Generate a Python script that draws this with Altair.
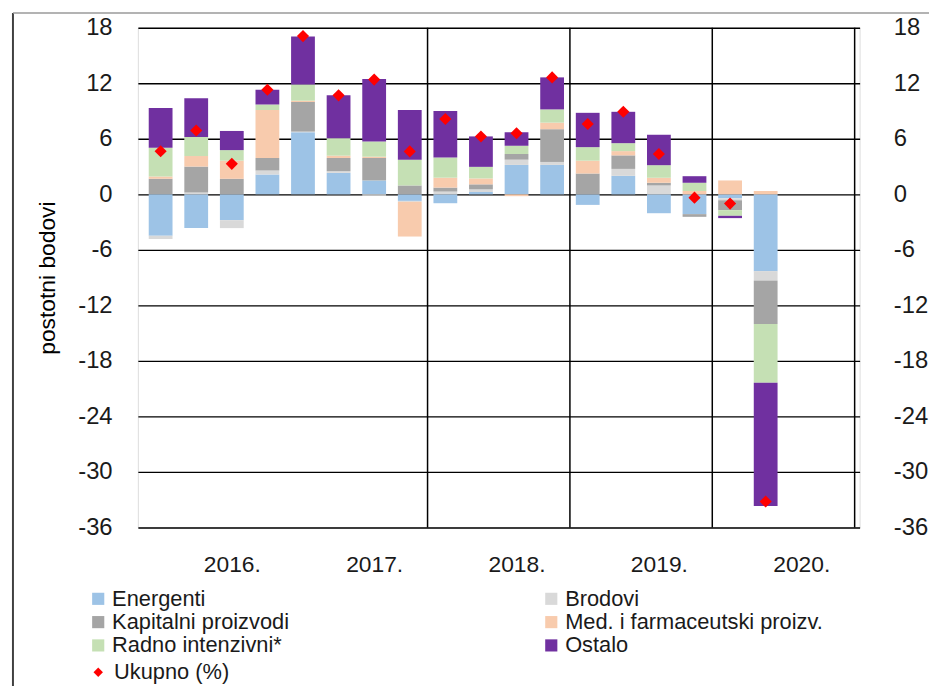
import altair as alt
import pandas as pd

quarters = ["2016Q1", "2016Q2", "2016Q3", "2016Q4",
            "2017Q1", "2017Q2", "2017Q3", "2017Q4",
            "2018Q1", "2018Q2", "2018Q3", "2018Q4",
            "2019Q1", "2019Q2", "2019Q3", "2019Q4",
            "2020Q1", "2020Q2"]
series = ["Energenti", "Brodovi", "Kapitalni proizvodi",
          "Med. i farmaceutski proizv.", "Radno intenzivni*", "Ostalo"]
colors = ["#9DC3E6", "#D9D9D9", "#A5A5A5", "#F8CBAD", "#C5E0B4", "#7030A0"]

energenti = [-4.47, -3.64, -2.79, 2.14, 6.71, 2.32, 1.50, -0.71, -0.96, 0.25, 3.18, 3.18, -1.14, 2.00, -2.04, -2.14, -0.43, -8.30]
brodovi = [-0.36, 0.20, -0.86, 0.43, 0.07, 0.18, -0.15, -0.10, 0.30, 0.29, 0.57, 0.32, 0.00, 0.75, 0.96, 0.00, -0.21, -1.00]
kapitalni = [1.68, 2.80, 1.68, 1.36, 3.20, 1.43, 2.43, 0.96, 0.43, 0.54, 0.61, 3.54, 2.25, 1.46, 0.29, -0.29, -1.07, -4.71]
med = [0.25, 1.14, 1.96, 5.18, 0.14, 0.25, 0.14, -3.75, 1.07, 0.64, -0.20, 0.71, 1.39, 0.46, 0.54, 0.36, 1.50, 0.36]
radno = [3.10, 2.07, 1.14, 0.60, 1.75, 1.89, 1.64, 2.79, 2.18, 1.25, 0.89, 1.43, 1.46, 0.86, 1.36, 0.89, -0.61, -6.36]
ostalo = [4.30, 4.18, 2.07, 1.60, 5.18, 4.64, 6.75, 5.36, 5.04, 3.29, 1.46, 3.46, 3.71, 3.39, 3.29, 0.71, -0.25, -13.30]
ukupno = [4.66, 6.90, 3.30, 11.30, 17.10, 10.70, 12.40, 4.64, 8.14, 6.25, 6.60, 12.64, 7.60, 8.93, 4.36, -0.36, -1.00, -33.20]

year_labels = ["2016.", "2017.", "2018.", "2019.", "2020."]
y_ticks = [18, 12, 6, 0, -6, -12, -18, -24, -30, -36]

n_slots = 4 * len(year_labels)
label_pos = [4 * i + 2 for i in range(len(year_labels))]
boundaries = [4 * i + 3.5 for i in range(1, len(year_labels))]

rows = []
for k, (name, vals) in enumerate(zip(series, [energenti, brodovi, kapitalni, med, radno, ostalo])):
    for i, v in enumerate(vals):
        rows.append({"idx": i, "q": quarters[i], "series": name, "ord": k, "value": v})
bars_df = pd.DataFrame(rows)
tot_df = pd.DataFrame({"idx": list(range(len(quarters))), "q": quarters,
                       "value": ukupno, "lab": ["Ukupno (%)"] * len(quarters)})
bound_df = pd.DataFrame({"b": boundaries})

label_map = "{" + ", ".join(f"'{p}': '{l}'" for p, l in zip(label_pos, year_labels)) + "}"
ylab_expr = "datum.value < 0 ? '-' + abs(datum.value) : '' + datum.value"

xscale = alt.Scale(domain=[-0.5, n_slots - 0.5], nice=False, zero=False)
yscale = alt.Scale(domain=[-36, 18], nice=False, zero=False)
FONT = "Liberation Sans"

xaxis = alt.Axis(values=label_pos, labelExpr=f"{label_map}[datum.value]", grid=False,
                 ticks=False, domain=False, title=None, labelFontSize=23,
                 labelPadding=26, labelColor="#1a1a1a", labelFont=FONT)

rules = alt.Chart(bound_df).mark_rule(color="#000000", strokeWidth=1.5).encode(
    x=alt.X("b:Q", scale=xscale, axis=xaxis)
)

bars = alt.Chart(bars_df).mark_bar(size=24).encode(
    x=alt.X("idx:Q", scale=xscale, axis=xaxis),
    y=alt.Y("value:Q", stack="zero", scale=yscale,
            axis=alt.Axis(values=y_ticks, labelExpr=ylab_expr, grid=True, gridColor="#000000",
                          gridWidth=1.4, ticks=False, domain=False, labelFontSize=24,
                          labelPadding=26, labelColor="#1a1a1a", labelFont=FONT,
                          title="postotni bodovi", titleFontSize=23, titleFontWeight="normal",
                          titleFont=FONT, titleColor="#000000", titlePadding=18)),
    color=alt.Color("series:N", scale=alt.Scale(domain=series, range=colors), sort=series,
                    legend=alt.Legend(orient="none", legendX=-51, legendY=565, columns=2,
                                      direction="horizontal",
                                      title=None, symbolType="square", symbolSize=150,
                                      symbolStrokeWidth=0, labelFontSize=22, labelFont=FONT,
                                      labelColor="#1a1a1a", labelOffset=3, columnPadding=253,
                                      rowPadding=1.5, labelLimit=400)),
    order=alt.Order("ord:Q"),
    tooltip=["q:N", "series:N", "value:Q"],
)

points = alt.Chart(tot_df).mark_point(filled=True, color="#FF0000", size=150, opacity=1).encode(
    x=alt.X("idx:Q", scale=xscale, axis=xaxis),
    y=alt.Y("value:Q", scale=yscale,
            axis=alt.Axis(values=y_ticks, labelExpr=ylab_expr, orient="right", grid=False,
                          ticks=False, domain=False, labelFontSize=24, labelPadding=34,
                          labelColor="#1a1a1a", labelFont=FONT, labelAlign="left", title=None)),
    shape=alt.Shape("lab:N", scale=alt.Scale(range=["diamond"]),
                    legend=alt.Legend(orient="none", legendX=-51, legendY=639, title=None,
                                      symbolFillColor="#FF0000", symbolStrokeColor="#FF0000",
                                      symbolSize=90, labelFontSize=22, labelFont=FONT,
                                      labelColor="#1a1a1a", labelOffset=5)),
    tooltip=["q:N", "value:Q"],
)

frame_df = pd.DataFrame({"k": [0]})
frame_left = alt.Chart(frame_df).mark_rule(color="#404040", strokeWidth=2).encode(
    x=alt.value(-126), y=alt.value(-15), y2=alt.value(680))
frame_top = alt.Chart(frame_df).mark_rule(color="#9a9a9a", strokeWidth=1.5).encode(
    x=alt.value(-126), x2=alt.value(800), y=alt.value(-15))

chart = alt.layer(rules, bars, points, frame_left, frame_top).resolve_scale(
    y="independent", color="independent", shape="independent"
).properties(
    width=728, height=504,
    autosize=alt.AutoSizeParams(type="none"),
    padding={"left": 131, "top": 17, "right": 70, "bottom": 160},
).configure_view(
    stroke="#000000", strokeWidth=1.5
).configure(font=FONT)

chart.save("out.html", embed_options={"renderer": "svg", "actions": False})
